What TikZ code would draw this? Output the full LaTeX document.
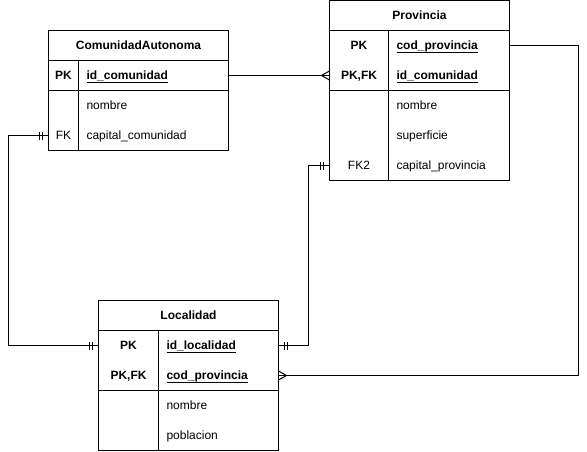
\documentclass[tikz,border=0pt]{standalone}
\usepackage{fontspec}
\setmainfont{Liberation Sans}
\usepackage{tikz}
\usetikzlibrary{positioning}
\newcommand{\keyname}[1]{\setbox0=\hbox{\bfseries #1}\rlap{\rule[-2.9pt]{\wd0}{1pt}}\box0}
\tikzset{
  entity/.style={draw, minimum width=180pt, minimum height=30pt, inner sep=0pt, outer sep=0pt,
    font=\fontsize{12pt}{14pt}\selectfont\bfseries, text height=11pt, text depth=2.4pt},
  rowbox/.style={draw, minimum width=180pt, inner sep=0pt, outer sep=0pt},
  attr/.style={minimum height=30pt, text width=100pt, align=left, inner xsep=8pt, inner ysep=0pt,
    outer sep=0pt, font=\fontsize{12pt}{14pt}\selectfont, text height=11pt, text depth=2.4pt},
  keycell/.style={minimum height=30pt, inner sep=0pt, outer sep=0pt, align=center,
    font=\fontsize{12pt}{14pt}\selectfont, text height=11pt, text depth=2.4pt},
  pkcell/.style={keycell, font=\fontsize{12pt}{14pt}\selectfont\bfseries},
  one/.pic={\draw (6pt,-4pt) -- (6pt,4pt) (9pt,-4pt) -- (9pt,4pt);},
  many/.pic={\draw (0pt,-4.5pt) -- (8pt,0pt) -- (0pt,4.5pt);},
}
\begin{document}
\begin{tikzpicture}[x=1pt, y=-1pt, line width=1pt]
\useasboundingbox (0,0) rectangle (587,451);
% nodes
 % ComunidadAutonoma
 \node[entity, anchor=north west] (ca) at (48.5,30.5) {ComunidadAutonoma};
 \node[rowbox, minimum height=30pt, below=0pt of ca] (ca-pk) {};%
 \node[rowbox, minimum height=60pt, below=0pt of ca-pk] (ca-rest) {};%
 \draw ([xshift=30pt]ca-pk.north west) -- ([xshift=30pt]ca-rest.south west);
 \node[attr, below right=0pt and 30pt of ca-pk.north west] (ca-a1) {\keyname{id\_comunidad}};
 \node[attr, below=0pt of ca-a1] (ca-a2) {nombre};
 \node[attr, below=0pt of ca-a2] (ca-a3) {capital\_comunidad};
 \node[pkcell, minimum width=30pt, left=0pt of ca-a1] (ca-k1) {PK};
 \node[keycell, minimum width=30pt, left=0pt of ca-a3] (ca-k3) {FK};

 % Provincia
 \node[entity, anchor=north west] (prov) at (329.5,0.5) {Provincia};
 \node[rowbox, minimum height=60pt, below=0pt of prov] (prov-pk) {};%
 \node[rowbox, minimum height=90pt, below=0pt of prov-pk] (prov-rest) {};%
 \draw ([xshift=59pt]prov-pk.north west) -- ([xshift=59pt]prov-rest.south west);
 \node[attr, below right=0pt and 59pt of prov-pk.north west] (prov-a1) {\keyname{cod\_provincia}};
 \node[attr, below=0pt of prov-a1] (prov-a2) {\keyname{id\_comunidad}};
 \node[attr, below=0pt of prov-a2] (prov-a3) {nombre};
 \node[attr, below=0pt of prov-a3] (prov-a4) {superficie};
 \node[attr, below=0pt of prov-a4] (prov-a5) {capital\_provincia};
 \node[pkcell, minimum width=59pt, left=0pt of prov-a1] (prov-k1) {PK};
 \node[pkcell, minimum width=59pt, left=0pt of prov-a2] (prov-k2) {PK,FK};
 \node[keycell, minimum width=59pt, left=0pt of prov-a5] (prov-k5) {FK2};

 % Localidad
 \node[entity, anchor=north west] (loc) at (98.5,300.5) {Localidad};
 \node[rowbox, minimum height=60pt, below=0pt of loc] (loc-pk) {};%
 \node[rowbox, minimum height=60pt, below=0pt of loc-pk] (loc-rest) {};%
 \draw ([xshift=60pt]loc-pk.north west) -- ([xshift=60pt]loc-rest.south west);
 \node[attr, below right=0pt and 60pt of loc-pk.north west] (loc-a1) {\keyname{id\_localidad}};
 \node[attr, below=0pt of loc-a1] (loc-a2) {\keyname{cod\_provincia}};
 \node[attr, below=0pt of loc-a2] (loc-a3) {nombre};
 \node[attr, below=0pt of loc-a3] (loc-a4) {poblacion};
 \node[pkcell, minimum width=60pt, left=0pt of loc-a1] (loc-k1) {PK};
 \node[pkcell, minimum width=60pt, left=0pt of loc-a2] (loc-k2) {PK,FK};

% edges
 \draw (ca-pk.east) -- (prov-k2.west);
 \pic[rotate=180] at (prov-k2.west) {many};

 \draw (ca-k3.west) -- ++(-40,0) |- (loc-k1.west);
 \pic[rotate=180] at (ca-k3.west) {one};
 \pic[rotate=180] at (loc-k1.west) {one};

 \draw (prov-k5.west) -- ++(-21,0) |- (loc-pk.east |- loc-a1.east);
 \pic[rotate=180] at (prov-k5.west) {one};
 \pic at (loc-pk.east |- loc-a1.east) {one};

 \draw (prov-pk.east |- prov-a1.east) -- ++(69,0) |- (loc-pk.east |- loc-a2.east);
 \pic at (loc-pk.east |- loc-a2.east) {many};
\end{tikzpicture}
\end{document}
